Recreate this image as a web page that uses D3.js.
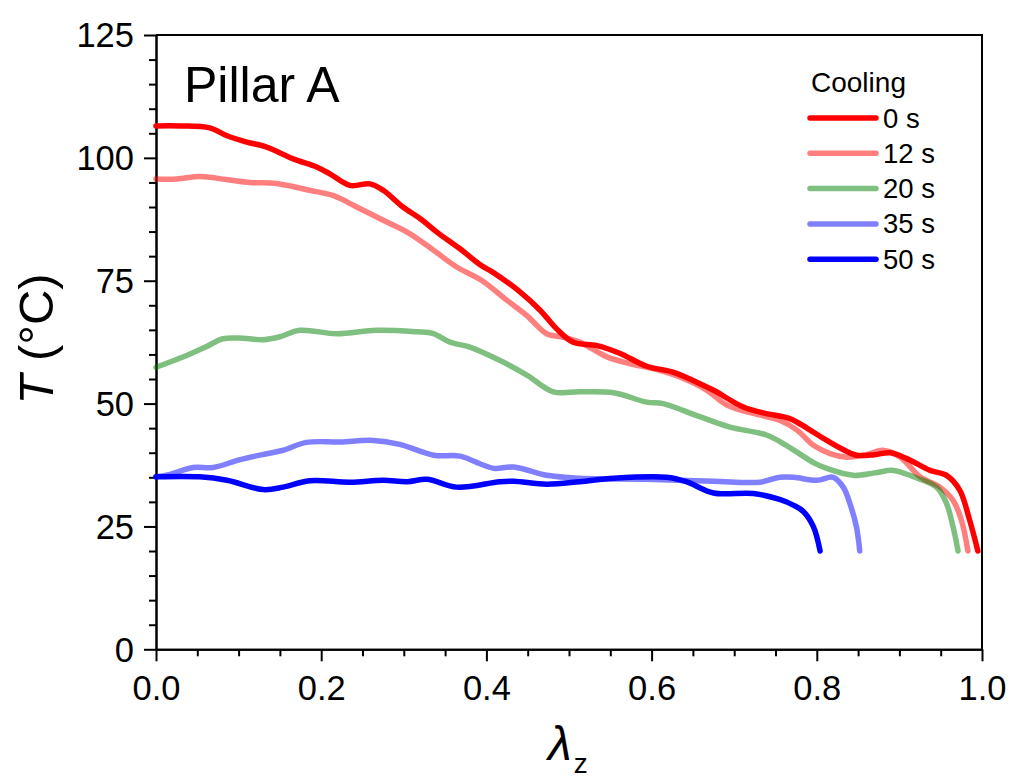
<!DOCTYPE html>
<html>
<head>
<meta charset="utf-8">
<script src="https://cdn.jsdelivr.net/npm/d3@7"></script>
<style>
  html, body { margin: 0; padding: 0; background: #fff; }
  svg { display: block; font-family: "Liberation Sans", Arial, sans-serif; }
</style>
</head>
<body>
<svg id="chart" width="1013" height="781"></svg>
<script>
// ---- Data ----
const seriesNames = ["0 s", "12 s", "20 s", "35 s", "50 s"];
const seriesColors = ["#ff0000", "#ff0000", "#008000", "#0000ff", "#0000ff"];
const seriesOpacity = [1, 0.5, 0.5, 0.5, 1];

const lambda0 = [0, 0.03, 0.065, 0.086, 0.110, 0.134, 0.166, 0.195, 0.211, 0.235, 0.259, 0.275, 0.299, 0.320, 0.340, 0.368, 0.392, 0.408, 0.441, 0.465, 0.485, 0.505, 0.534, 0.562, 0.594, 0.626, 0.654, 0.675, 0.711, 0.735, 0.768, 0.790, 0.808, 0.830, 0.848, 0.870, 0.889, 0.909, 0.937, 0.957, 0.973, 0.985, 0.995];
const temp0   = [106.5, 106.5, 106.1, 104.5, 103.2, 102.2, 99.8, 98.1, 96.7, 94.4, 94.7, 93.4, 90.0, 87.6, 84.9, 81.5, 78.3, 76.7, 72.7, 69.0, 65.2, 62.5, 61.8, 60.2, 57.6, 56.4, 54.4, 52.7, 49.3, 48.1, 46.9, 44.8, 42.9, 40.8, 39.5, 39.6, 40.0, 38.8, 36.4, 35.4, 32.4, 26.3, 20.0];

const lambda12 = [0, 0.025, 0.053, 0.085, 0.114, 0.146, 0.186, 0.215, 0.243, 0.275, 0.307, 0.336, 0.364, 0.394, 0.425, 0.449, 0.473, 0.493, 0.513, 0.546, 0.574, 0.602, 0.634, 0.667, 0.691, 0.723, 0.755, 0.776, 0.796, 0.816, 0.836, 0.860, 0.880, 0.901, 0.925, 0.949, 0.965, 0.975, 0.983];
const temp12   = [95.7, 95.7, 96.2, 95.6, 95.0, 94.8, 93.4, 92.3, 90.0, 87.3, 84.6, 81.2, 77.8, 75.1, 71.0, 67.9, 64.2, 63.5, 62.5, 59.5, 58.1, 57.1, 55.4, 52.7, 49.7, 48.0, 46.6, 44.6, 41.5, 39.8, 39.1, 39.6, 40.5, 39.1, 35.1, 33.0, 30.3, 26.3, 20.0];

const lambda20 = [0, 0.037, 0.060, 0.081, 0.105, 0.130, 0.150, 0.174, 0.219, 0.267, 0.316, 0.335, 0.356, 0.380, 0.416, 0.449, 0.481, 0.513, 0.554, 0.594, 0.614, 0.654, 0.695, 0.739, 0.763, 0.796, 0.812, 0.844, 0.870, 0.893, 0.917, 0.945, 0.957, 0.965, 0.971];
const temp20   = [57.4, 59.8, 61.5, 63.2, 63.3, 63.0, 63.6, 64.9, 64.2, 64.9, 64.6, 64.3, 62.5, 61.5, 58.8, 55.8, 52.4, 52.4, 52.2, 50.3, 50.0, 47.6, 45.2, 43.6, 41.5, 38.0, 36.8, 35.4, 35.9, 36.4, 35.1, 33.0, 29.7, 24.9, 20.0];

const lambda35 = [0, 0.017, 0.045, 0.069, 0.102, 0.134, 0.154, 0.182, 0.223, 0.263, 0.295, 0.336, 0.368, 0.396, 0.410, 0.433, 0.473, 0.513, 0.594, 0.675, 0.731, 0.755, 0.772, 0.800, 0.820, 0.832, 0.840, 0.848, 0.852];
const temp35   = [35.1, 35.6, 37.0, 37.0, 38.6, 39.8, 40.5, 42.1, 42.2, 42.5, 41.7, 39.5, 39.3, 37.5, 36.8, 37.1, 35.4, 34.8, 34.6, 34.2, 34.0, 35.0, 35.0, 34.4, 35.0, 33.0, 29.7, 24.9, 20.0];

const lambda50 = [0, 0.053, 0.086, 0.130, 0.154, 0.186, 0.235, 0.275, 0.304, 0.328, 0.364, 0.416, 0.433, 0.473, 0.513, 0.554, 0.618, 0.642, 0.675, 0.723, 0.755, 0.772, 0.784, 0.796, 0.804];
const temp50   = [35.1, 35.1, 34.4, 32.5, 33.0, 34.3, 34.0, 34.4, 34.1, 34.6, 33.0, 34.1, 34.2, 33.6, 34.1, 34.8, 35.0, 34.1, 31.8, 31.7, 30.5, 29.3, 28.0, 24.9, 20.0];

const xTicks = [0, 0.2, 0.4, 0.6, 0.8, 1.0];
const yTicks = [0, 25, 50, 75, 100, 125];
const panelLabel = "Pillar A";
const legendTitle = "Cooling";

const lambdas = [lambda0, lambda12, lambda20, lambda35, lambda50];
const temps = [temp0, temp12, temp20, temp35, temp50];

// ---- Layout ----
const svg = d3.select("#chart");
const L = 156, T = 35, R = 982, B = 649.3;
const x = d3.scaleLinear().domain([0, 1]).range([L, R]);
const y = d3.scaleLinear().domain([0, 125]).range([B, T]);

// Frame (top & right)
svg.append("path")
  .attr("d", `M${L},${T}H${R}V${B}`)
  .attr("fill", "none").attr("stroke", "#000").attr("stroke-width", 2);

// Minor ticks
const xMinor = d3.range(0, 1.0001, 0.05).filter(v => Math.abs(v * 5 - Math.round(v * 5)) > 1e-6);
const yMinor = d3.range(0, 125.001, 5).filter(v => v % 25 !== 0);

const gxMinor = svg.append("g").attr("transform", `translate(0,${B})`)
  .call(d3.axisBottom(x).tickValues(xMinor).tickSize(7).tickFormat("").tickSizeOuter(0));
const gyMinor = svg.append("g").attr("transform", `translate(${L},0)`)
  .call(d3.axisLeft(y).tickValues(yMinor).tickSize(7).tickFormat("").tickSizeOuter(0));

const gx = svg.append("g").attr("transform", `translate(0,${B})`)
  .call(d3.axisBottom(x).tickValues(xTicks).tickSize(12).tickPadding(14).tickFormat(d3.format(".1f")).tickSizeOuter(0));
const gy = svg.append("g").attr("transform", `translate(${L},0)`)
  .call(d3.axisLeft(y).tickValues(yTicks).tickSize(12).tickPadding(10).tickFormat(d3.format("d")).tickSizeOuter(0));

[gxMinor, gyMinor, gx, gy].forEach(g => {
  g.selectAll("path.domain").attr("stroke", "#000").attr("stroke-width", 2);
  g.selectAll(".tick line").attr("stroke", "#000").attr("stroke-width", 2);
});
[gx, gy].forEach(g => {
  g.selectAll(".tick text")
    .attr("font-family", "'Liberation Sans', Arial, sans-serif")
    .attr("font-size", 34.5).attr("fill", "#000");
});
gy.selectAll(".tick text").attr("dy", "0.34em");
gx.selectAll(".tick text").attr("dy", "0.71em");

// Lines
const line = d3.line().x(d => x(d[0])).y(d => y(d[1])).curve(d3.curveCatmullRom.alpha(0.5));
lambdas.forEach((ls, i) => {
  const pts = ls.map((v, j) => [v, temps[i][j]]);
  svg.append("path")
    .attr("d", line(pts))
    .attr("fill", "none")
    .attr("stroke", seriesColors[i])
    .attr("stroke-opacity", seriesOpacity[i])
    .attr("stroke-width", 5.5)
    .attr("stroke-linecap", "round")
    .attr("stroke-linejoin", "round");
});

// Panel label
svg.append("text").attr("x", 184).attr("y", 102)
  .attr("font-size", 50).attr("fill", "#000").text(panelLabel);

// Legend
svg.append("text").attr("x", 811).attr("y", 92)
  .attr("font-size", 28).attr("fill", "#000").text(legendTitle);
const legY0 = 118, legDY = 35.3;
seriesNames.forEach((name, i) => {
  const yy = legY0 + i * legDY;
  svg.append("line").attr("x1", 810).attr("x2", 876).attr("y1", yy).attr("y2", yy)
    .attr("stroke", seriesColors[i]).attr("stroke-opacity", seriesOpacity[i])
    .attr("stroke-width", 5.5).attr("stroke-linecap", "round");
  svg.append("text").attr("x", 883).attr("y", yy + 9.5)
    .attr("font-size", 27.5).attr("fill", "#000").text(name);
});

// Axis titles
const yt = svg.append("text")
  .attr("transform", "translate(53,339) rotate(-90)")
  .attr("text-anchor", "middle").attr("font-size", 49).attr("fill", "#000");
yt.append("tspan").attr("font-style", "italic").text("T");
yt.append("tspan").text(" (°C)");

const xt = svg.append("text").attr("x", 548).attr("y", 760)
  .attr("font-size", 48).attr("fill", "#000");
xt.append("tspan").attr("font-style", "italic").text("λ");
xt.append("tspan").attr("font-size", 28).attr("dy", 13).attr("dx", 2).text("z");
</script>
</body>
</html>
